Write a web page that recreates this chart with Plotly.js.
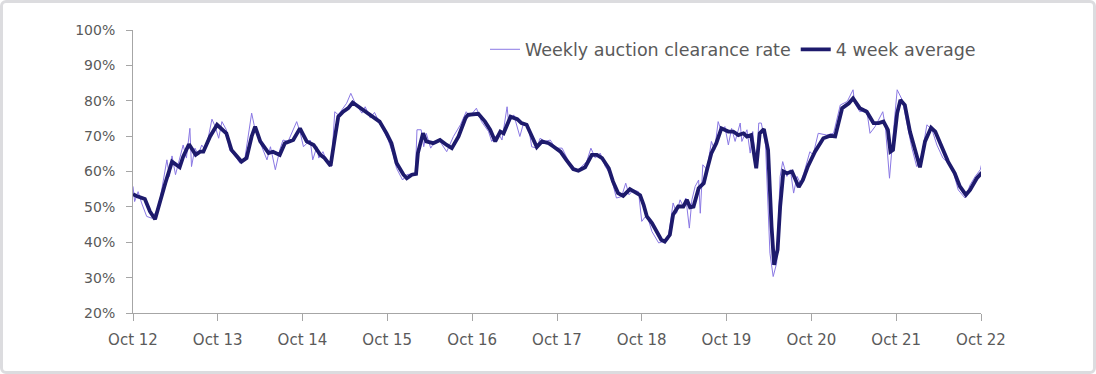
<!DOCTYPE html>
<html>
<head>
<meta charset="utf-8">
<script src="https://cdn.plot.ly/plotly-3.0.1.min.js"></script>
<style>
  html, body { margin: 0; padding: 0; background: #ffffff; }
  #wrap { position: relative; width: 1096px; height: 374px; }
  #chart { width: 1096px; height: 374px; }
  #frame { position: absolute; left: 0; top: 0; width: 1096px; height: 374px; box-sizing: border-box;
           border: 3px solid #dcdcdf; border-radius: 6px; pointer-events: none; }
</style>
</head>
<body>
<div id="wrap"><div id="chart"></div><div id="frame"></div></div>
<script>
const avgYear = [
  2012.75,2012.79,2012.89,2012.95,
  2013.01,2013.07,2013.13,2013.21,2013.30,2013.34,2013.41,2013.49,2013.54,2013.58,2013.66,2013.74,2013.85,2013.91,
  2014.03,2014.09,2014.15,2014.19,2014.25,2014.35,2014.40,2014.48,2014.54,2014.64,2014.72,2014.76,2014.80,2014.88,2014.96,
  2015.01,2015.08,2015.13,2015.17,2015.23,2015.29,2015.34,2015.41,2015.51,2015.60,2015.66,2015.74,2015.80,2015.86,2015.94,2015.98,
  2016.04,2016.09,2016.11,2016.17,2016.21,2016.29,2016.37,2016.45,2016.51,2016.59,2016.67,2016.70,2016.78,2016.82,2016.90,2016.96,
  2017.02,2017.08,2017.12,2017.20,2017.28,2017.33,2017.39,2017.45,2017.51,2017.57,2017.65,2017.71,2017.79,2017.86,2017.94,
  2018.00,2018.08,2018.16,2018.22,2018.28,2018.36,2018.41,2018.47,2018.53,2018.61,2018.69,2018.73,2018.77,2018.81,2018.87,2018.93,2018.98,
  2019.02,2019.08,2019.12,2019.18,2019.24,2019.28,2019.32,2019.36,2019.42,2019.48,2019.52,2019.57,2019.63,2019.69,2019.77,2019.83,2019.89,2019.95,2019.99,
  2020.04,2020.10,2020.14,2020.19,2020.24,2020.28,2020.31,2020.35,2020.38,2020.42,2020.46,2020.52,2020.56,2020.60,2020.65,2020.71,2020.79,2020.89,2020.97,
  2021.03,2021.11,2021.19,2021.24,2021.32,2021.40,2021.48,2021.54,2021.60,2021.65,2021.68,2021.71,2021.76,2021.80,2021.85,2021.91,2021.97,
  2022.03,2022.09,2022.16,2022.21,2022.29,2022.36,2022.44,2022.50,2022.57,2022.62,2022.70,2022.76
];
const avgRate = [
  53.6,53.1,52.2,48.7,
  46.5,52,56.7,62.8,61.2,64.2,67.7,64.7,65.6,65.6,69.9,73.2,70.8,66.1,
  62.8,63.8,69.9,72.7,68.5,65.2,65.6,64.7,68,68.9,72.2,70.3,68.5,67.5,64.7,
  63.8,61.6,69.4,75.5,76.9,77.9,79.5,78.3,76.5,75.1,74.1,70.8,68,62.4,59.1,58.1,
  59.1,59.3,65.2,70.8,68.5,68,68.9,67.5,66.6,69.9,75.1,76,76.2,76.3,74.1,71.8,
  68.5,71.3,70.8,75.5,74.8,73.7,73.2,69.9,66.9,68.5,68,67,65.6,63.3,60.7,
  60.2,61.2,64.7,64.7,63.8,60.9,57.2,53.9,53.1,55,53.9,53.3,50.6,47.3,45.4,42.6,40.7,
  40.2,42.1,47.8,50.1,50.1,52,49.9,50.1,55.3,56.7,60.5,65.2,68,72.2,71.3,71.3,70.3,70.8,69.9,
  70.3,60.9,70.8,72,66.1,44.5,33.6,37.9,50.1,60,59.5,60,57.6,55.6,57.6,61.5,65.6,69.4,70.1,
  69.9,77.9,79.3,80.7,77.9,76.9,73.7,73.7,74.1,71.8,65.6,66.1,76.5,80.2,78.8,71.3,65.6,
  61.2,68.5,72.4,71.3,66.6,62.8,59.5,55.8,53.4,54.8,58.1,59.7
];
const weeklyYear = [
  2012.75,2012.77,2012.81,2012.85,2012.91,2012.97,
  2013.05,2013.15,2013.18,2013.21,2013.25,2013.34,2013.38,2013.42,2013.44,2013.48,2013.52,2013.56,2013.60,2013.64,2013.68,2013.72,2013.76,2013.80,2013.85,2013.89,2013.97,
  2014.01,2014.07,2014.15,2014.19,2014.27,2014.33,2014.37,2014.43,2014.48,2014.52,2014.58,2014.68,2014.72,2014.76,2014.84,2014.87,2014.92,2014.94,2014.99,
  2015.03,2015.09,2015.13,2015.17,2015.23,2015.27,2015.32,2015.37,2015.45,2015.49,2015.55,2015.60,2015.66,2015.76,2015.82,2015.86,2015.93,2015.98,
  2016.08,2016.10,2016.15,2016.18,2016.21,2016.26,2016.31,2016.37,2016.45,2016.53,2016.61,2016.68,2016.72,2016.80,2016.86,2016.94,2016.98,
  2017.06,2017.10,2017.16,2017.18,2017.24,2017.31,2017.35,2017.41,2017.45,2017.51,2017.55,2017.61,2017.67,2017.73,2017.81,2017.86,2017.92,2017.98,
  2018.10,2018.15,2018.20,2018.26,2018.32,2018.38,2018.45,2018.51,2018.56,2018.60,2018.65,2018.71,2018.75,2018.81,2018.87,2018.95,
  2019.00,2019.06,2019.12,2019.16,2019.20,2019.24,2019.27,2019.31,2019.34,2019.38,2019.42,2019.44,2019.47,2019.52,2019.57,2019.61,2019.65,2019.69,2019.73,2019.77,2019.81,2019.85,2019.91,2019.93,2019.99,
  2020.03,2020.06,2020.10,2020.13,2020.16,2020.21,2020.26,2020.30,2020.34,2020.38,2020.41,2020.46,2020.50,2020.54,2020.58,2020.62,2020.66,2020.73,2020.77,2020.83,2020.93,
  2021.01,2021.09,2021.17,2021.24,2021.26,2021.32,2021.40,2021.44,2021.50,2021.54,2021.59,2021.62,2021.67,2021.70,2021.74,2021.76,2021.82,2021.87,2021.93,2021.99,
  2022.05,2022.11,2022.17,2022.23,2022.30,2022.36,2022.42,2022.48,2022.56,2022.62,2022.68,2022.74,2022.76
];
const weeklyRate = [
  55.8,51.5,54.3,51.1,47.3,46.8,
  49.7,63.3,58.6,64.4,59.1,67.5,63.8,72.2,61.4,66.6,64.7,67.5,66.1,69.9,74.8,72.7,69.4,74.1,71.8,66.1,63.8,
  62.4,63.8,76.5,71.8,67,63.3,67,60.5,66.1,68.9,68.5,74.1,71.3,67,68.9,63.3,67,63.8,65.6,
  63.3,61.4,76.9,76,77.9,79.3,82.1,79.3,76.5,78.3,75.1,76.7,73.7,68.9,64.7,60.9,57.6,59.1,
  59.5,71.8,71.8,67,70.8,66.6,68.5,68.5,65.6,69.9,73.2,76.9,75.5,77.9,74.1,71.3,68.5,
  70.8,68.9,78.3,73.7,76,69.9,73.2,73.2,67,66.6,69.4,68.5,68.9,66.6,66.6,64.2,61.4,60,
  62.8,66.6,63.8,65.2,61.4,59.1,52.5,52.9,56.7,53.4,54.8,54.3,45.9,47.8,43,39.8,
  40.2,40.7,51.1,48.2,52,50.1,52.5,44,52,55.8,57.6,48.2,61.9,60.5,68.5,66.1,74.1,71.3,72.7,67.5,72.2,68.5,73.7,68.5,71.8,
  65.2,71.3,61.4,73.7,73.7,67.5,36.9,30.3,34.1,58.6,62.8,58.6,60.5,53.9,58.6,56.7,59.5,65.6,64.7,70.8,70.3,
  70.8,78.8,79.8,83.1,79.3,76.9,77.4,70.8,72.7,74.6,76.9,72.7,58.1,67,77.9,83.1,80.2,74.6,67,61.4,
  64.7,73.2,71.8,67.5,63.8,62.4,60,54.8,52.5,56.2,58.6,60.5,62.4
];
const seriesNames = ['Weekly auction clearance rate', '4 week average'];

function toDate(y) {
  const yr = Math.floor(y);
  const s = Date.UTC(yr, 0, 1), e = Date.UTC(yr + 1, 0, 1);
  return new Date(s + (y - yr) * (e - s)).toISOString().slice(0, 10);
}

const FONT = 'DejaVu Sans, sans-serif';
const TXT = '#5a5a5a';

const traces = [
  { x: weeklyYear.map(toDate), y: weeklyRate, name: seriesNames[0], type: 'scatter', mode: 'lines',
    line: { color: '#8a78e4', width: 1 } },
  { x: avgYear.map(toDate), y: avgRate, name: seriesNames[1], type: 'scatter', mode: 'lines',
    line: { color: '#1d1a6c', width: 3.8 } }
];

const layout = {
  width: 1096, height: 374,
  margin: { l: 133, r: 115, t: 30, b: 61 },
  paper_bgcolor: '#ffffff', plot_bgcolor: '#ffffff',
  font: { family: FONT, color: TXT, size: 15 },
  showlegend: true,
  legend: { orientation: 'h', x: 1.0, xanchor: 'right', y: 0.995, yanchor: 'top',
            font: { family: FONT, color: TXT, size: 17.5 }, bgcolor: 'rgba(0,0,0,0)',
            itemwidth: 30, traceorder: 'normal' },
  xaxis: {
    type: 'date', range: ['2012-10-01', '2022-10-01'],
    tick0: '2012-10-01', dtick: 'M12', tickformat: '%b %y',
    showgrid: false, zeroline: false, showline: true, linecolor: '#a6a6a6', linewidth: 1,
    ticks: 'outside', ticklen: 7, tickcolor: '#a6a6a6', tickwidth: 1, ticklabelstandoff: 6,
    tickfont: { family: FONT, color: TXT, size: 15 }, fixedrange: true
  },
  yaxis: {
    range: [20, 100], dtick: 10, ticksuffix: '%',
    showgrid: false, zeroline: false, showline: true, linecolor: '#a6a6a6', linewidth: 1,
    ticks: 'outside', ticklen: 6, tickcolor: '#a6a6a6', tickwidth: 1, ticklabelstandoff: 8,
    tickfont: { family: FONT, color: TXT, size: 14 }, fixedrange: true
  }
};

Plotly.newPlot('chart', traces, layout, { displayModeBar: false, staticPlot: true });
</script>
</body>
</html>
